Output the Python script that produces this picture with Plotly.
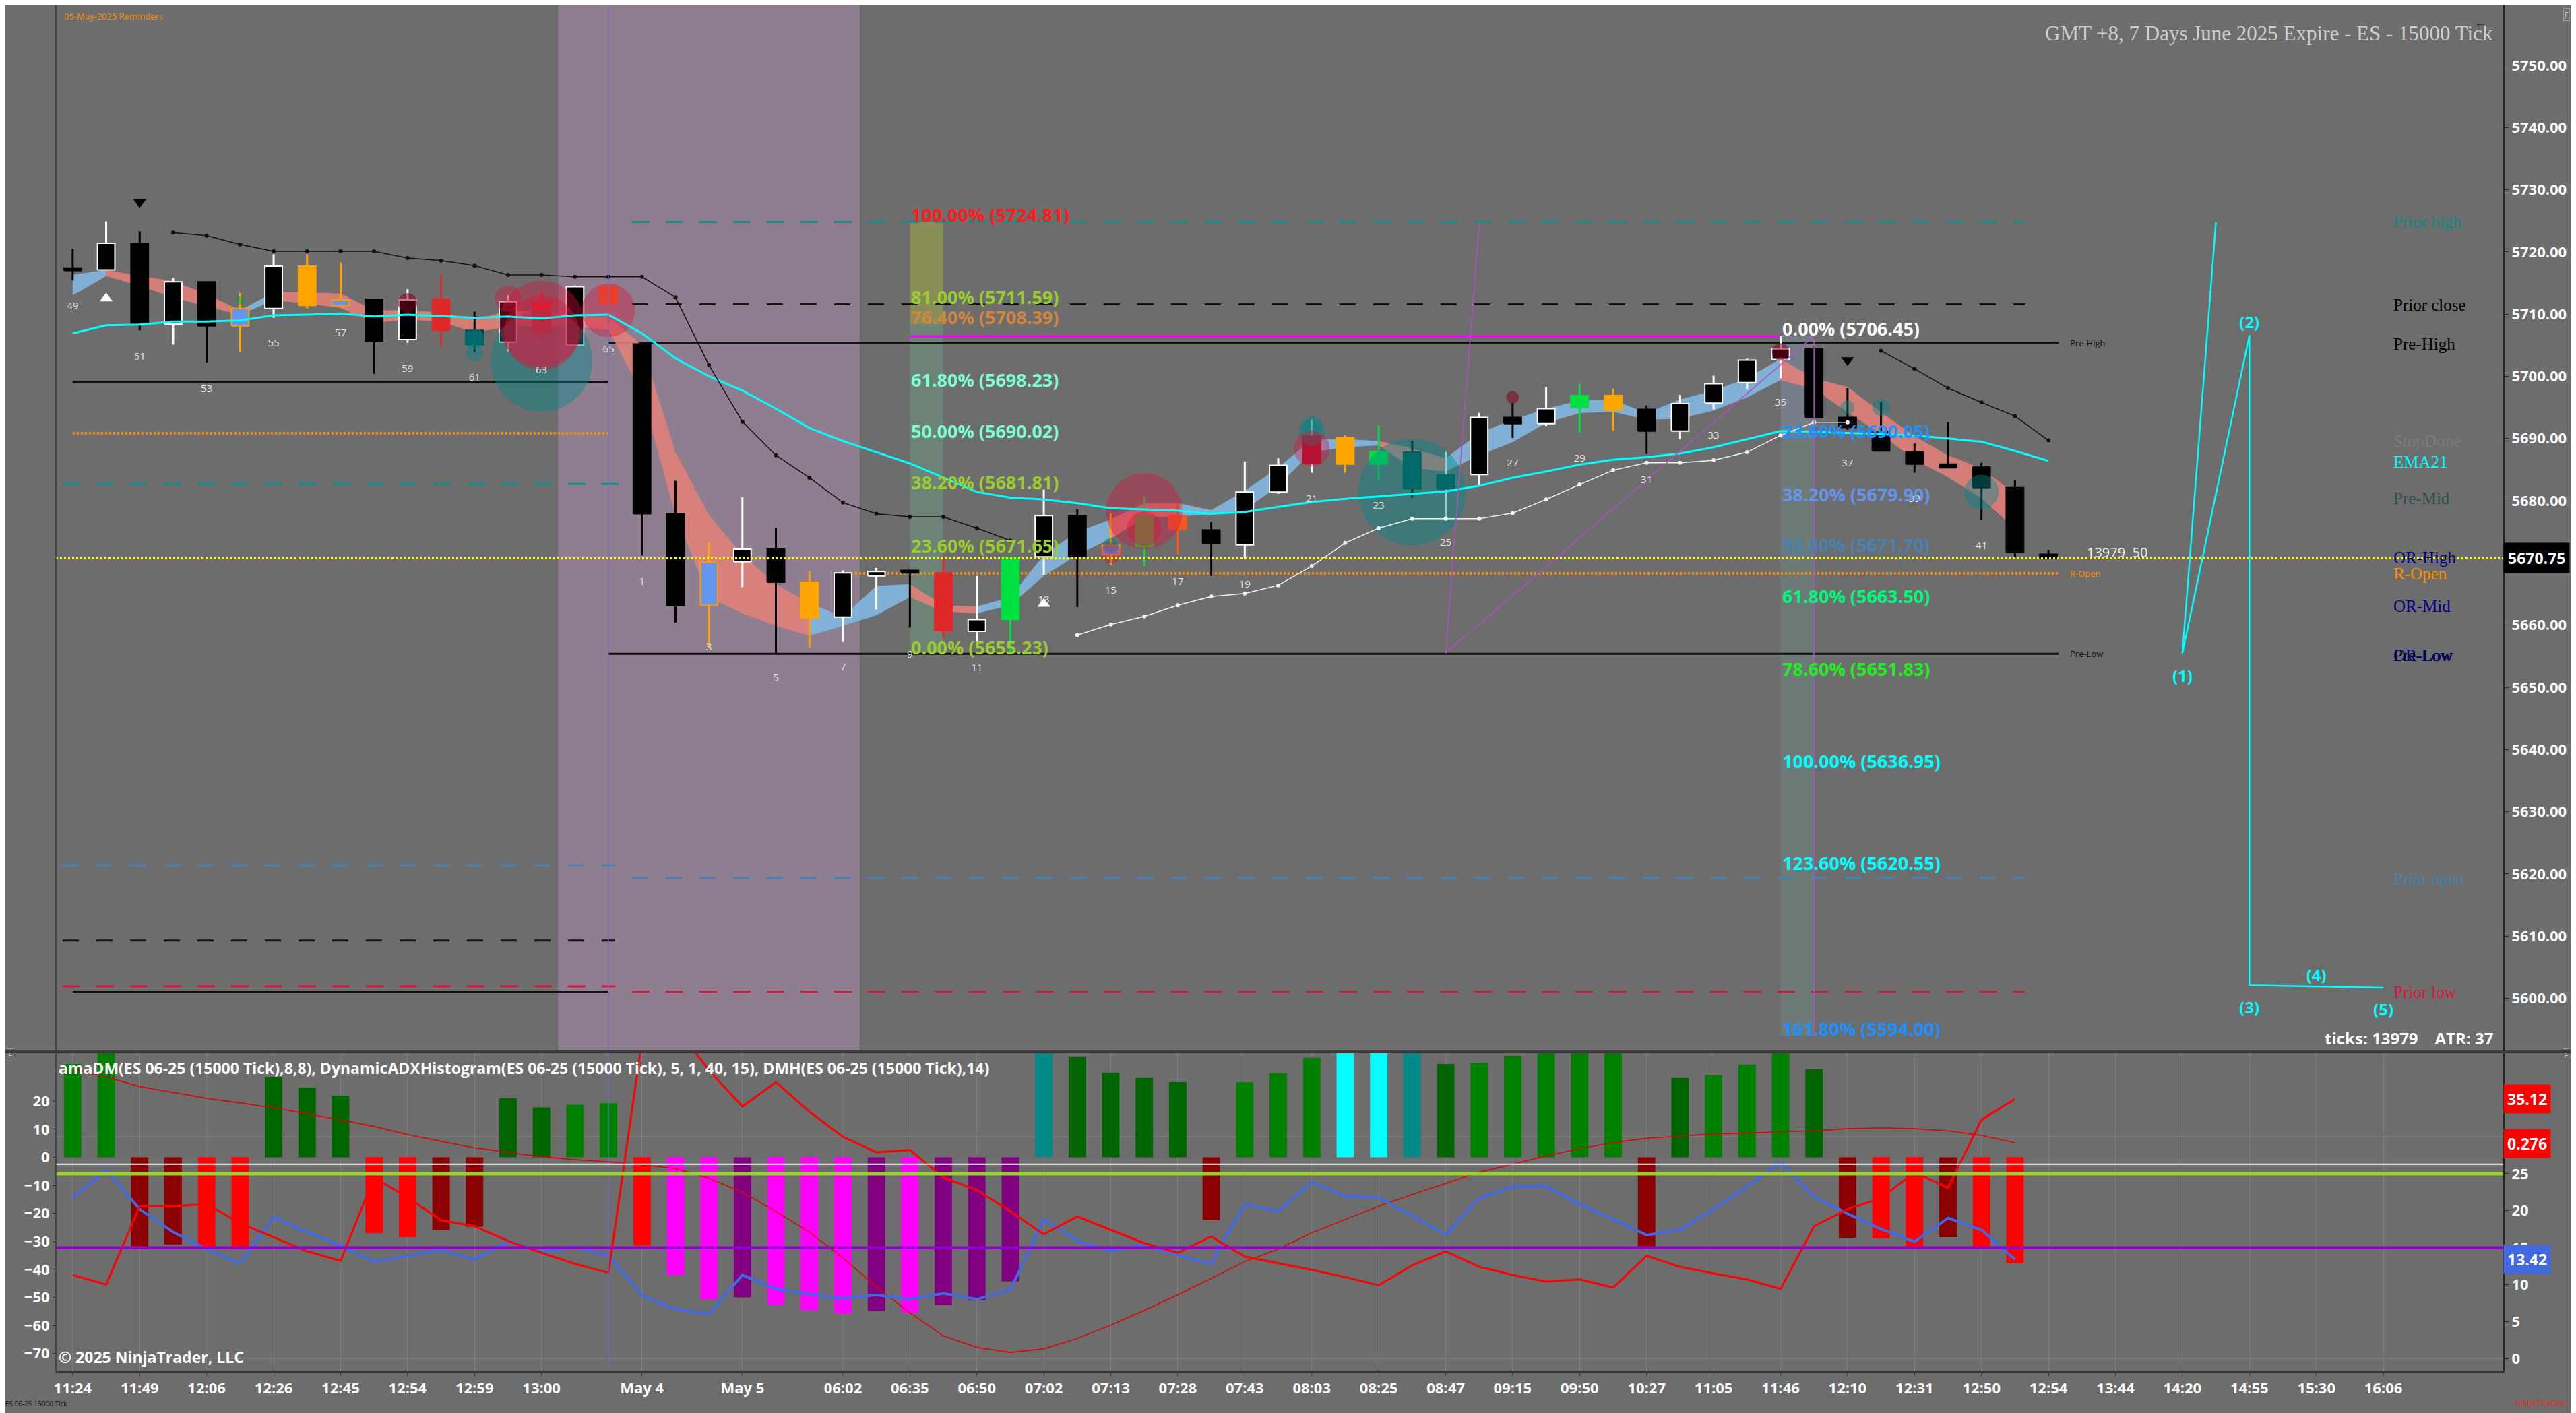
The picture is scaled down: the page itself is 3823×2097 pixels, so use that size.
import plotly.graph_objects as go

# ---------------- price bars (x = bar index of the 15000 tick chart) ----------------
opens = [5717.4, 5717.1, 5721.4, 5708.4, 5715.2, 5708.1, 5710.9, 5717.7, 5711.4, 5712.4,
         5705.9, 5712.4, 5707.4, 5705.5, 5712.0, 5705.0, 5714.4, 5705.2, 5677.9, 5663.2,
         5670.2, 5672.2, 5666.9, 5661.3, 5667.9, 5668.8, 5668.4, 5659.0, 5660.9, 5671.0,
         5677.6, 5671.3, 5672.6, 5675.4, 5675.3, 5672.9, 5681.4, 5686.0, 5690.2, 5685.9,
         5687.8, 5681.9, 5684.2, 5693.4, 5692.4, 5695.0, 5696.9, 5694.7, 5691.2, 5695.7,
         5699.0, 5702.7, 5704.4, 5693.4, 5691.1, 5687.8, 5685.9, 5685.4, 5682.1, 5671.4]
highs = [5720.5, 5724.9, 5723.3, 5715.8, 5715.2, 5713.4, 5719.6, 5719.6, 5718.3, 5712.4,
         5714.0, 5716.3, 5710.4, 5713.0, 5713.5, 5714.6, 5714.4, 5705.2, 5683.2, 5673.3,
         5680.6, 5675.6, 5668.6, 5668.8, 5669.2, 5668.9, 5671.0, 5667.9, 5670.9, 5681.8,
         5678.6, 5678.0, 5680.6, 5679.6, 5676.6, 5686.3, 5686.8, 5693.0, 5690.5, 5692.2,
         5689.6, 5687.9, 5694.1, 5695.7, 5698.3, 5698.8, 5698.0, 5695.3, 5697.0, 5700.1,
         5702.9, 5706.45, 5704.9, 5698.1, 5695.9, 5689.2, 5692.6, 5686.1, 5683.3, 5672.1]
lows = [5715.4, 5717.1, 5707.4, 5705.1, 5702.2, 5703.9, 5709.4, 5710.9, 5711.2, 5700.4,
        5705.4, 5704.7, 5703.9, 5704.0, 5706.0, 5705.0, 5708.4, 5671.2, 5660.4, 5656.4,
        5666.1, 5655.5, 5656.4, 5657.3, 5662.5, 5659.6, 5658.0, 5657.3, 5655.5, 5668.1,
        5662.9, 5669.7, 5669.5, 5671.3, 5667.9, 5670.6, 5681.1, 5684.5, 5684.5, 5683.4,
        5680.5, 5677.1, 5682.3, 5690.1, 5692.0, 5691.0, 5691.2, 5687.5, 5689.9, 5694.7,
        5697.9, 5699.7, 5693.4, 5691.4, 5688.0, 5684.5, 5685.2, 5676.9, 5670.9, 5670.7]
closes = [5717.0, 5721.4, 5708.4, 5715.2, 5708.1, 5710.9, 5717.7, 5711.4, 5712.3, 5705.6,
          5712.3, 5707.4, 5705.1, 5712.0, 5707.0, 5714.4, 5711.7, 5677.9, 5663.1, 5670.1,
          5672.2, 5666.9, 5661.2, 5668.4, 5668.6, 5668.4, 5659.1, 5660.9, 5670.9, 5677.6,
          5671.0, 5672.8, 5677.5, 5677.6, 5673.1, 5681.4, 5685.7, 5690.4, 5685.9, 5687.9,
          5681.9, 5684.1, 5693.4, 5692.4, 5694.8, 5696.9, 5694.6, 5691.2, 5695.6, 5698.8,
          5702.6, 5704.4, 5693.4, 5691.8, 5688.0, 5685.9, 5685.3, 5682.1, 5671.7, 5670.75]
bar_paint = ['B', 'W', 'B', 'W', 'B', 'L', 'W', 'O', 'L', 'B',
             'W', 'R', 'T', 'W', 'R', 'W', 'X', 'B', 'B', 'L',
             'W', 'B', 'O', 'W', 'W', 'B', 'R', 'W', 'G', 'W',
             'B', 'L', 'G', 'X', 'B', 'W', 'W', 'C', 'O', 'G',
             'T', 'V', 'W', 'B', 'W', 'G', 'O', 'B', 'W', 'W',
             'W', 'W', 'B', 'B', 'B', 'B', 'B', 'B', 'B', 'B']

ema21 = [5706.9, 5708.2, 5708.3, 5708.8, 5708.8, 5709.0, 5709.8, 5709.9, 5710.1, 5709.6,
         5709.9, 5709.7, 5709.4, 5709.6, 5709.3, 5709.8, 5709.9, 5706.9, 5702.9, 5700.0,
         5697.7, 5694.8, 5691.7, 5689.6, 5687.8, 5686.0, 5683.7, 5681.4, 5680.5, 5680.2,
         5679.6, 5678.8, 5678.6, 5678.4, 5677.9, 5678.2, 5679.0, 5679.8, 5680.3, 5680.7,
         5681.1, 5681.5, 5682.4, 5683.7, 5684.7, 5685.8, 5686.6, 5687.0, 5687.6, 5688.6,
         5689.9, 5691.2, 5691.1, 5690.9, 5690.7, 5690.5, 5690.0, 5689.5, 5688.0, 5686.4]

# trend ribbon (two averages, coloured by direction)
ribbon_hi = [5716.3, 5717.1, 5716.1, 5715.3, 5713.2, 5710.6, 5713.5, 5713.5, 5713.3, 5710.6,
             5710.6, 5710.3, 5709.1, 5710.5, 5710.5, 5710.0, 5709.5, 5705.0, 5687.8, 5677.7,
             5671.3, 5666.6, 5663.5, 5661.4, 5666.3, 5666.6, 5663.2, 5663.0, 5664.5, 5671.3,
             5675.0, 5677.0, 5679.6, 5679.6, 5678.5, 5681.6, 5685.3, 5689.9, 5689.9, 5689.6,
             5688.4, 5686.8, 5690.9, 5693.0, 5694.8, 5696.1, 5696.2, 5694.1, 5696.3, 5697.7,
             5699.7, 5702.8, 5699.7, 5698.3, 5694.2, 5690.4, 5687.3, 5685.2, 5681.1]
ribbon_lo = [5713.0, 5716.1, 5714.5, 5712.7, 5711.2, 5709.9, 5712.2, 5711.7, 5711.0, 5708.6,
             5709.1, 5708.8, 5707.0, 5708.0, 5708.0, 5708.0, 5707.5, 5697.2, 5677.7, 5664.5,
             5661.9, 5659.9, 5658.3, 5659.9, 5661.6, 5664.5, 5662.2, 5661.9, 5663.2, 5667.9,
             5671.3, 5673.9, 5677.3, 5677.5, 5677.8, 5678.5, 5682.4, 5687.8, 5688.6, 5688.9,
             5685.3, 5684.7, 5687.3, 5689.4, 5692.5, 5694.1, 5694.3, 5693.0, 5693.2, 5694.5,
             5696.6, 5699.4, 5698.0, 5694.2, 5690.7, 5686.6, 5683.8, 5680.4, 5675.5]
ribbon_up = [1, 1, 0, 0, 0, 0, 1, 0, 0, 0,
             0, 0, 0, 0, 0, 0, 0, 0, 0, 0,
             0, 0, 0, 1, 1, 1, 0, 0, 1, 1,
             1, 1, 0, 0, 1, 1, 1, 1, 1, 1,
             0, 0, 1, 1, 1, 1, 1, 1, 1, 1,
             1, 1, 0, 0, 0, 0, 0, 0, 0]

# trailing stops
stop_hi_a_x = list(range(3, 29))
stop_hi_a = [5723.1, 5722.6, 5721.2, 5720.1, 5720.1, 5720.1, 5720.1, 5719.0, 5718.6, 5717.8,
             5716.3, 5716.3, 5716.0, 5716.0, 5716.0, 5712.7, 5701.8, 5692.7, 5687.3, 5683.7,
             5679.7, 5677.9, 5677.4, 5677.4, 5675.6, 5673.6]
stop_hi_b_x = list(range(54, 60))
stop_hi_b = [5704.1, 5701.2, 5698.1, 5695.8, 5693.6, 5689.7]
stop_lo_x = list(range(30, 54))
stop_lo = [5658.4, 5660.1, 5661.4, 5663.2, 5664.6, 5665.1, 5666.4, 5669.5, 5673.2, 5675.6,
           5677.1, 5677.1, 5677.1, 5678.0, 5680.2, 5682.6, 5684.9, 5686.1, 5686.1, 5686.5,
           5687.8, 5690.5, 5692.6, 5692.6]

# order-flow bubbles
bub_x = [13, 14, 14, 14, 16, 10, 12, 12, 5, 31, 31, 32, 32, 37, 37, 37, 40, 43, 51, 53, 54, 57]
bub_y = [5712.5, 5708.5, 5707.0, 5702.5, 5710.6, 5711.8, 5706.0, 5703.8, 5712.2, 5672.8, 5671.6,
         5678.3, 5675.5, 5692.0, 5690.9, 5688.4, 5681.4, 5696.6, 5703.9, 5695.0, 5695.0, 5681.4]
bub_size = [38, 125, 110, 150, 78, 28, 30, 25, 12, 22, 30, 112, 50, 30, 38, 52, 158, 18, 25, 20, 25, 50]
bub_kind = ['r', 'r', 'r', 't', 'r', 'd', 't', 't', 'g', 't', 'r', 'r', 'r', 't', 't', 'r', 't',
            'd', 'd', 't', 't', 't']

tri_dn_x = [2, 53]
tri_dn_y = [5728.0, 5702.6]
tri_up_x = [1, 29]
tri_up_y = [5712.5, 5663.4]

bar_num_x = [0, 2, 4, 6, 8, 10, 12, 14, 16, 17, 19, 21, 23, 25, 27, 29, 31, 33, 35, 37,
             39, 41, 43, 45, 47, 49, 51, 53, 55, 57]
bar_num_y = [5711.2, 5703.1, 5697.9, 5705.2, 5706.9, 5701.1, 5699.7, 5700.9, 5704.2, 5666.9,
             5656.4, 5651.4, 5653.1, 5655.2, 5653.0, 5664.0, 5665.5, 5666.9, 5666.4, 5680.2,
             5679.1, 5673.2, 5685.9, 5686.7, 5683.2, 5690.4, 5695.7, 5685.9, 5680.2, 5672.6]
bar_num_txt = ['49', '51', '53', '55', '57', '59', '61', '63', '65', '1', '3', '5', '7', '9',
               '11', '13', '15', '17', '19', '21', '23', '25', '27', '29', '31', '33', '35',
               '37', '39', '41']

# fibonacci drawings
fib1_pct = [100.0, 81.0, 76.4, 61.8, 50.0, 38.2, 23.6, 0.0]
fib1_price = [5724.81, 5711.59, 5708.39, 5698.23, 5690.02, 5681.81, 5671.65, 5655.23]
fib1_col = ['#ff1a1a', '#9acd32', '#d2873f', '#7fffd4', '#7fffd4', '#9acd32', '#9acd32', '#9acd32']
fib2_pct = [0.0, 23.6, 38.2, 50.0, 61.8, 78.6, 100.0, 123.6, 161.8]
fib2_price = [5706.45, 5690.05, 5679.90, 5671.70, 5663.50, 5651.83, 5636.95, 5620.55, 5594.00]
fib2_col = ['#ffffff', '#1e90ff', '#6495ed', '#4682b4', '#00fa7a', '#22ee22', '#00ffff',
            '#00ffff', '#1e90ff']
fib1_span = (25, 26)
fib2_span = (51, 52)

# horizontal key levels: price, first bar, last bar, style
lvl_price = [5699.1, 5690.85, 5682.7, 5621.4, 5609.3, 5601.9, 5601.1,
             5724.8, 5711.6, 5705.4, 5706.45, 5668.3, 5655.4, 5619.4, 5601.1]
lvl_from = [0, 0, -0.3, -0.3, -0.3, -0.3, 0,
            16.7, 16.7, 16, 25, 23, 16, 16.7, 16.7]
lvl_to = [16, 16, 16.3, 16.2, 16.2, 16.2, 16,
          58.3, 58.3, 59.3, 51, 59.3, 59.3, 58.3, 58.3]
lvl_kind = ['solid', 'orange', 'teal', 'blue', 'black', 'red', 'solid',
            'teal', 'black', 'solid', 'magenta', 'orange', 'solid', 'blue', 'red']
last_price = 5670.75

# right-hand level names
name_txt = ['Prior high', 'Prior close', 'Pre-High', 'StopDone', 'EMA21', 'Pre-Mid', 'OR-High',
            'R-Open', 'OR-Mid', 'Pre-Low', 'OR-Low', 'Prior open', 'Prior low']
name_price = [5724.8, 5711.5, 5705.2, 5689.6, 5686.2, 5680.4, 5670.9, 5668.3, 5663.1, 5655.2,
              5655.2, 5619.2, 5601.0]
name_col = ['#138585', '#000000', '#000000', '#7c7c7c', '#00ffff', '#2f4f4f', '#000080',
            '#ff8c00', '#000080', '#000000', '#000080', '#4682b4', '#dc143c']

# elliott wave sketch
wave_x = [63, 65, 65, 69]
wave_y = [5655.5, 5706.6, 5602.1, 5601.7]
wave_spur_x = [63, 64]
wave_spur_y = [5655.5, 5724.8]
wave_lbl = ['(1)', '(2)', '(3)', '(4)', '(5)']
wave_lbl_x = [63, 65, 65, 67, 69]
wave_lbl_y = [5651.5, 5708.4, 5598.2, 5603.4, 5597.9]

# purple trend drawing
draw_x = [42.0, 41.0, 52.0]
draw_y = [5724.6, 5655.5, 5706.5]

# ---------------- indicator panel ----------------
hist_vals = [33.3, 42.0, -32.75, -31.1, -32.1, -32.75, 28.5, 24.8, 22.0, -27.1,
             -28.5, -25.9, -24.8, 21.0, 17.75, 18.75, 19.25, -31.5, -42.1, -50.7,
             -50.0, -52.5, -54.6, -55.7, -54.8, -55.4, -52.7, -51.0, -44.3, 40.0,
             36.0, 30.2, 28.3, 26.8, -22.5, 26.7, 30.0, 35.5, 40.0, 41.0,
             39.0, 33.3, 33.7, 36.2, 38.0, 39.0, 38.5, -32.1, 28.3, 29.3,
             33.1, 40.0, 31.4, -28.75, -28.9, -32.1, -28.5, -32.1, -37.75]
hist_key = ['g', 'g', 'D', 'D', 'r', 'r', 'k', 'k', 'k', 'r',
            'r', 'D', 'D', 'k', 'k', 'g', 'g', 'r', 'm', 'm',
            'p', 'm', 'm', 'm', 'p', 'm', 'p', 'p', 'p', 't',
            'k', 'k', 'k', 'k', 'D', 'g', 'g', 'g', 'c', 'c',
            't', 'k', 'g', 'g', 'g', 'g', 'g', 'D', 'k', 'g',
            'g', 'g', 'k', 'D', 'r', 'r', 'D', 'r', 'r']
dm_minus = [21.8, 25.5, 20.2, 17.1, 14.8, 12.9, 19.1, 17.1, 15.3, 13.1,
            13.9, 14.7, 13.4, 15.9, 14.4, 15.2, 13.9, 8.5, 6.7, 6.0,
            11.3, 9.4, 8.7, 8.1, 8.6, 8.0, 8.8, 8.0, 9.3, 18.8,
            15.9, 14.6, 15.5, 14.0, 12.8, 20.9, 19.9, 23.9, 22.0, 21.8,
            19.3, 16.7, 21.7, 23.3, 23.3, 20.9, 18.8, 16.7, 17.4, 20.2,
            23.3, 26.5, 21.9, 19.6, 17.5, 15.8, 19.0, 17.4, 13.42]
dm_plus = [11.3, 10.0, 20.6, 20.6, 20.9, 18.3, 16.4, 14.5, 13.2, 24.5,
           21.8, 18.7, 17.9, 15.9, 14.3, 12.8, 11.6, 43.0, 45.0, 39.0,
           34.1, 37.4, 33.4, 30.0, 27.9, 28.2, 24.5, 22.8, 19.9, 16.8,
           19.2, 17.4, 15.6, 14.3, 16.5, 13.8, 12.9, 12.0, 11.0, 9.9,
           12.6, 14.5, 12.4, 11.3, 10.4, 10.7, 9.6, 13.9, 12.4, 11.5,
           10.7, 9.4, 17.9, 20.2, 21.7, 25.2, 23.1, 32.3, 35.12]
adx_slow = [39.2, 38.1, 36.8, 36.0, 35.2, 34.6, 33.9, 33.1, 32.3, 31.4,
            30.3, 29.4, 28.5, 27.9, 27.3, 26.9, 26.6, 26.2, 25.7, 24.4,
            22.5, 19.9, 17.1, 13.6, 9.7, 6.2, 3.05, 1.5, 0.8, 1.3,
            2.7, 4.5, 6.5, 8.6, 10.85, 13.1, 14.8, 17.0, 18.8, 20.6,
            22.2, 23.7, 25.2, 26.3, 27.4, 28.4, 29.2, 29.8, 30.1, 30.4,
            30.5, 30.7, 30.8, 31.1, 31.2, 31.1, 30.8, 30.2, 29.2]
adx_levels = [26.3, 25.0, 15.0]
adx_last = 0.276

tick_pos = [0, 2, 4, 6, 8, 10, 12, 14, 17, 20, 23, 25, 27, 29, 31, 33, 35, 37, 39, 41,
            43, 45, 47, 49, 51, 53, 55, 57, 59, 61, 63, 65, 67, 69]
tick_txt = ['11:24', '11:49', '12:06', '12:26', '12:45', '12:54', '12:59', '13:00', 'May 4',
            'May 5', '06:02', '06:35', '06:50', '07:02', '07:13', '07:28', '07:43', '08:03',
            '08:25', '08:47', '09:15', '09:50', '10:27', '11:05', '11:46', '12:10', '12:31',
            '12:50', '12:54', '13:44', '14:20', '14:55', '15:30', '16:06']
session_break = 16
session_shade = (14.5, 23.5)

# ---------------- styling ----------------
BG = '#6d6d6d'
AXFONT = 'Open Sans'
NARROW = 'Liberation Sans Narrow, Arial Narrow, Open Sans'
SERIF = 'Liberation Serif, Times New Roman, serif'
BODY = 0.26
# the page body adds an 8px offset, so the plot area is laid out to land on the
# reference pixels (left 83, right 3715, top 0, panel split 1561, bottom 2034)
SPLIT = 473 / 2026
X_RANGE = [-0.5, 72.58]
PRICE_RANGE = [5591.4, 5759.63]

CANDLE_STYLE = {
    'W': ('#000000', '#ffffff', '#ffffff'),
    'B': ('#000000', '#000000', '#000000'),
    'O': ('#ffa500', '#ffa500', '#ffa500'),
    'L': ('#6495ed', '#ff9900', '#ffa500'),
    'R': ('#e02828', '#e02828', '#e02828'),
    'G': ('#00e040', '#00e040', '#00e040'),
    'T': ('#005252', '#004444', '#000000'),
    'V': ('#005252', '#004444', '#ffffff'),
    'X': ('#f05a22', '#f05a22', '#f05a22'),
    'C': ('#a0102c', '#a0102c', '#ffffff'),
}
BUBBLE_COL = {'r': 'rgba(220,20,60,0.55)', 't': 'rgba(0,139,139,0.6)',
              'd': 'rgba(130,0,30,0.75)', 'g': 'rgba(0,160,80,0.6)'}
HIST_COL = {'g': '#008000', 'k': '#006400', 'D': '#8b0000', 'r': '#ff0000',
            'm': '#ff00ff', 'p': '#800080', 't': '#008b8b', 'c': '#00ffff'}
LEVEL_STYLE = {
    'solid': dict(color='#111111', width=3, dash='solid'),
    'orange': dict(color='#ff8c00', width=4, dash='3px,3px'),
    'teal': dict(color='#178a8a', width=3, dash='26px,24px'),
    'blue': dict(color='#4682b4', width=3, dash='24px,26px'),
    'black': dict(color='#111111', width=3, dash='24px,26px'),
    'red': dict(color='#dc143c', width=3, dash='26px,24px'),
    'magenta': dict(color='#ff00ff', width=3, dash='solid'),
}


def paper_x(px):
    return (px - 83) / 3632


def paper_y(py):
    return (2034 - py) / 2026


fig = go.Figure()
P = dict(xaxis='x', yaxis='y')

# session shading and fibonacci columns
fig.add_shape(type='rect', xref='x', yref='y domain', x0=session_shade[0], x1=session_shade[1],
              y0=0, y1=1, fillcolor='#8f7e90', line_width=0, layer='below')
fig.add_shape(type='rect', xref='x', yref='y', x0=fib1_span[0], x1=fib1_span[1],
              y0=fib1_price[2], y1=fib1_price[0], fillcolor='rgba(170,180,60,0.45)',
              line_width=0, layer='below')
fig.add_shape(type='rect', xref='x', yref='y', x0=fib1_span[0], x1=fib1_span[1],
              y0=fib1_price[-1], y1=fib1_price[2], fillcolor='rgba(110,200,150,0.25)',
              line_width=0, layer='below')
fig.add_shape(type='rect', xref='x', yref='y', x0=fib2_span[0], x1=fib2_span[1],
              y0=fib2_price[1], y1=fib2_price[0], fillcolor='rgba(140,160,200,0.3)',
              line_width=0, layer='below')
fig.add_shape(type='rect', xref='x', yref='y', x0=fib2_span[0], x1=fib2_span[1],
              y0=fib2_price[-1], y1=fib2_price[1], fillcolor='rgba(110,170,160,0.22)',
              line_width=0, layer='below')

# key levels
for p, a, b, k in zip(lvl_price, lvl_from, lvl_to, lvl_kind):
    fig.add_shape(type='line', xref='x', yref='y', x0=a, x1=b, y0=p, y1=p,
                  line=LEVEL_STYLE[k], layer='below')
fig.add_shape(type='line', xref='x domain', yref='y', x0=0, x1=1, y0=last_price, y1=last_price,
              line=dict(color='#ffff00', width=3, dash='3px,3px'))
fig.add_shape(type='line', xref='x', yref='paper', x0=session_break, x1=session_break, y0=0, y1=1,
              line=dict(color='#6a6ad8', width=1))

# ribbon
for flag, col in ((1, 'rgba(130,182,222,0.92)'), (0, 'rgba(222,128,122,0.92)')):
    rx, ry = [], []
    for i in range(len(ribbon_hi) - 1):
        if ribbon_up[i + 1] != flag:
            continue
        rx += [i, i + 1, i + 1, i, i, None]
        ry += [ribbon_lo[i], ribbon_lo[i + 1], ribbon_hi[i + 1], ribbon_hi[i], ribbon_lo[i], None]
    fig.add_trace(go.Scatter(x=rx, y=ry, mode='lines', fill='toself', fillcolor=col,
                             line=dict(width=0, color=col), hoverinfo='skip', **P))

# candles: wicks then bodies
bodies = []
for key, (fill, edge, wick) in CANDLE_STYLE.items():
    bx, by, wx, wy = [], [], [], []
    for i, k in enumerate(bar_paint):
        if k != key:
            continue
        o, h, l, c = opens[i], highs[i], lows[i], closes[i]
        top, bot = max(o, c), min(o, c)
        bx += [i - BODY, i + BODY, i + BODY, i - BODY, i - BODY, None]
        by += [bot, bot, top, top, bot, None]
        if h > top:
            wx += [i, i, None]
            wy += [top, h, None]
        if l < bot:
            wx += [i, i, None]
            wy += [l, bot, None]
    if not bx:
        continue
    fig.add_trace(go.Scatter(x=wx, y=wy, mode='lines', line=dict(color=wick, width=3),
                             hoverinfo='skip', **P))
    bodies.append(go.Scatter(x=bx, y=by, mode='lines', fill='toself', fillcolor=fill,
                             line=dict(color=edge, width=2), hoverinfo='skip', **P))
for b in bodies:
    fig.add_trace(b)

# bubbles: teal layer first, red on top
for group in (('t',), ('r', 'd', 'g')):
    sel = [j for j, k in enumerate(bub_kind) if k in group]
    cols = [BUBBLE_COL[bub_kind[j]] for j in sel]
    fig.add_trace(go.Scatter(x=[bub_x[j] for j in sel], y=[bub_y[j] for j in sel],
                             mode='markers', hoverinfo='skip',
                             marker=dict(size=[bub_size[j] for j in sel], color=cols,
                                         line=dict(width=1, color=cols)), **P))

# EMA and trailing stops
fig.add_trace(go.Scatter(x=list(range(len(ema21))), y=ema21, mode='lines',
                         line=dict(color='#00ffff', width=3), **P))
for sx, sy, col in ((stop_hi_a_x, stop_hi_a, '#111111'), (stop_hi_b_x, stop_hi_b, '#111111'),
                    (stop_lo_x, stop_lo, '#f2f2f2')):
    fig.add_trace(go.Scatter(x=sx, y=sy, mode='lines+markers', line=dict(color=col, width=1.5),
                             marker=dict(size=6, color=col), **P))

# fibonacci edge and trend drawing
fig.add_trace(go.Scatter(x=[fib2_span[1], fib2_span[1]], y=[fib2_price[0], fib2_price[-1]],
                         mode='lines', line=dict(color='#b050c8', width=1.5), **P))
fig.add_trace(go.Scatter(x=draw_x, y=draw_y, mode='lines', line=dict(color='#b050c8', width=1.5), **P))

# elliott wave
fig.add_trace(go.Scatter(x=wave_x, y=wave_y, mode='lines', line=dict(color='#00ffff', width=2.5), **P))
fig.add_trace(go.Scatter(x=wave_spur_x, y=wave_spur_y, mode='lines',
                         line=dict(color='#00ffff', width=2.5), **P))
fig.add_trace(go.Scatter(x=wave_lbl_x, y=wave_lbl_y, mode='text', text=wave_lbl,
                         textfont=dict(color='#00ffff', size=24, family=NARROW, weight='bold'),
                         **P))

# markers
fig.add_trace(go.Scatter(x=tri_dn_x, y=tri_dn_y, mode='markers',
                         marker=dict(symbol='triangle-down', size=17, color='#000000'), **P))
fig.add_trace(go.Scatter(x=tri_up_x, y=tri_up_y, mode='markers',
                         marker=dict(symbol='triangle-up', size=17, color='#ffffff'), **P))
fig.add_trace(go.Scatter(x=bar_num_x, y=bar_num_y, mode='text', text=bar_num_txt,
                         textfont=dict(color='#e6e6e6', size=15, family=NARROW), **P))

# ---------------- indicator traces ----------------
fig.add_trace(go.Bar(x=list(range(len(hist_vals))), y=hist_vals, width=0.52,
                     marker=dict(color=[HIST_COL[k] for k in hist_key], line_width=0),
                     xaxis='x2', yaxis='y2'))
for lv, col, w in zip(adx_levels, ['#ffffff', '#9acd32', '#9400d3'], [2, 5, 4]):
    fig.add_shape(type='line', xref='x2 domain', yref='y3', x0=0, x1=1, y0=lv, y1=lv,
                  line=dict(color=col, width=w))
for lv in (0, 30):
    fig.add_shape(type='line', xref='x2 domain', yref='y3', x0=0, x1=1, y0=lv, y1=lv,
                  line=dict(color='#8c8c8c', width=1), layer='below')
fig.add_trace(go.Scatter(x=list(range(len(adx_slow))), y=adx_slow, mode='lines',
                         line=dict(color='#e00000', width=1.5), xaxis='x2', yaxis='y3'))
fig.add_trace(go.Scatter(x=list(range(len(dm_minus))), y=dm_minus, mode='lines',
                         line=dict(color='#4169e1', width=4), xaxis='x2', yaxis='y3'))
fig.add_trace(go.Scatter(x=list(range(len(dm_plus))), y=dm_plus, mode='lines',
                         line=dict(color='#ff0000', width=3), xaxis='x2', yaxis='y3'))

# ---------------- annotations ----------------
ann = []
for pct, pr, col in zip(fib1_pct, fib1_price, fib1_col):
    ann.append(dict(x=fib1_span[0], y=pr, xref='x', yref='y', xanchor='left', yanchor='middle',
                    yshift=11, showarrow=False, text=f'{pct:.2f}% ({pr:.2f})',
                    font=dict(color=col, size=27, family=NARROW, weight='bold')))
for pct, pr, col in zip(fib2_pct, fib2_price, fib2_col):
    ann.append(dict(x=fib2_span[0], y=pr, xref='x', yref='y', xanchor='left', yanchor='middle',
                    yshift=11, showarrow=False, text=f'{pct:.2f}% ({pr:.2f})',
                    font=dict(color=col, size=27, family=NARROW, weight='bold')))
for t, pr, col in zip(name_txt, name_price, name_col):
    ann.append(dict(x=69.25, y=pr, xref='x', yref='y', xanchor='left', yanchor='middle',
                    showarrow=False, text=t, font=dict(color=col, size=25, family=SERIF)))
for t, pr, col in (('Pre-High', lvl_price[9], '#111111'), ('R-Open', lvl_price[11], '#ff8c00'),
                   ('Pre-Low', lvl_price[12], '#111111')):
    ann.append(dict(x=59.6, y=pr, xref='x', yref='y', xanchor='left', yanchor='middle',
                    showarrow=False, text=t, font=dict(color=col, size=13, family=NARROW)))
ann.append(dict(x=60.1, y=last_price + 1.0, xref='x', yref='y', xanchor='left', showarrow=False,
                text='13979  50', font=dict(color='#f0f0f0', size=20, family=NARROW)))
ann.append(dict(x=1.0, y=last_price, xref='paper', yref='y', xanchor='left', yanchor='middle',
                showarrow=False, text=f'{last_price:.2f}', bgcolor='#000000', borderpad=6,
                font=dict(color='#ffffff', size=23, family=AXFONT, weight='bold')))
for val, y, col in ((dm_plus[-1], dm_plus[-1], '#ff0000'), (adx_last, 29.1, '#ff0000'),
                    (dm_minus[-1], dm_minus[-1], '#4169e1')):
    ann.append(dict(x=1.0, y=y, xref='paper', yref='y3', xanchor='left', yanchor='middle',
                    showarrow=False, text=f'{val:g}' if val < 1 else f'{val:.2f}', bgcolor=col,
                    borderpad=5, font=dict(color='#ffffff', size=23, family=NARROW, weight='bold')))
ann.append(dict(x=paper_x(3702), y=paper_y(50), xref='paper', yref='paper', xanchor='right',
                yanchor='middle', showarrow=False,
                text='GMT +8, 7 Days June 2025 Expire - ES - 15000 Tick',
                font=dict(color='#cfcfcf', size=31, family=SERIF)))
ann.append(dict(x=paper_x(3692), y=paper_y(18), xref='paper', yref='paper', showarrow=False,
                text='←', font=dict(color='#111111', size=18)))
for fx, fy in ((3814, 12), (10, 1575), (3813, 1575)):
    ann.append(dict(x=paper_x(fx), y=paper_y(fy), xref='paper', yref='paper', showarrow=False,
                    text='F', borderwidth=1, bordercolor='#9a9a9a', borderpad=1,
                    font=dict(color='#cfcfcf', size=11, family=NARROW)))
ann.append(dict(x=paper_x(93), y=paper_y(24), xref='paper', yref='paper', xanchor='left',
                yanchor='middle', showarrow=False, text='05-May-2025 Reminders',
                font=dict(color='#ff8c00', size=13, family=NARROW)))
ann.append(dict(x=paper_x(3702), y=paper_y(1540), xref='paper', yref='paper', xanchor='right',
                yanchor='middle', showarrow=False,
                text='ticks: 13979&nbsp;&nbsp;&nbsp;&nbsp;ATR: 37',
                font=dict(color='#ffffff', size=24, family=AXFONT, weight='bold')))
ann.append(dict(x=paper_x(85), y=paper_y(1585), xref='paper', yref='paper', xanchor='left',
                yanchor='middle', showarrow=False,
                text='amaDM(ES 06-25 (15000 Tick),8,8), DynamicADXHistogram(ES 06-25 (15000 Tick), '
                     '5, 1, 40, 15), DMH(ES 06-25 (15000 Tick),14)',
                font=dict(color='#ffffff', size=23, family=AXFONT, weight='bold')))
ann.append(dict(x=paper_x(85), y=paper_y(2014), xref='paper', yref='paper', xanchor='left',
                yanchor='middle', showarrow=False, text='© 2025 NinjaTrader, LLC',
                font=dict(color='#ffffff', size=23, family=AXFONT, weight='bold')))
ann.append(dict(x=paper_x(6), y=paper_y(2083), xref='paper', yref='paper', xanchor='left',
                yanchor='middle', showarrow=False, text='ES 06-25 15000 Tick',
                font=dict(color='#111111', size=10, family=NARROW)))
ann.append(dict(x=paper_x(3770), y=paper_y(2082), xref='paper', yref='paper', xanchor='center',
                yanchor='middle', showarrow=False, text='NINJATRADER',
                font=dict(color='#e03020', size=12, family=NARROW)))

# panel frames
fig.add_shape(type='line', xref='paper', yref='paper', x0=paper_x(0), x1=paper_x(3823),
              y0=SPLIT, y1=SPLIT, line=dict(color='#3c3c3c', width=4))
fig.add_shape(type='line', xref='paper', yref='paper', x0=0, x1=0, y0=0, y1=1,
              line=dict(color='#3a3a3a', width=1.5))

tickfont = dict(color='#ffffff', size=22, family=AXFONT, weight='bold')
fig.update_layout(
    width=3823, height=2097,
    paper_bgcolor=BG, plot_bgcolor=BG,
    margin=dict(l=75, r=116, t=0, b=71),
    showlegend=False, barmode='overlay',
    annotations=ann,
    xaxis=dict(domain=[0, 1], anchor='y', range=X_RANGE, matches='x2', showticklabels=False,
               showgrid=False, zeroline=False),
    xaxis2=dict(domain=[0, 1], anchor='y2', range=X_RANGE, tickmode='array', tickvals=tick_pos,
                ticktext=tick_txt, tickfont=tickfont, ticks='outside', ticklen=4,
                tickcolor='#333333', showgrid=True, gridcolor='#7e7e7e', gridwidth=1,
                zeroline=False, showline=True, linecolor='#3a3a3a', linewidth=4),
    yaxis=dict(domain=[SPLIT, 1], anchor='x', side='right', range=PRICE_RANGE, dtick=10,
               tickformat='.2f', tickfont=tickfont, ticks='outside', ticklen=6,
               tickcolor='#222222', showgrid=False, zeroline=False, showline=True,
               linecolor='#222222', linewidth=2),
    yaxis2=dict(domain=[0, SPLIT], anchor='x2', side='left', range=[-76.1, 37.6],
                tickvals=[-70, -60, -50, -40, -30, -20, -10, 0, 10, 20], tickfont=tickfont,
                ticks='outside', ticklen=4, tickcolor='#222222', showgrid=False, zeroline=False),
    yaxis3=dict(overlaying='y2', anchor='x2', side='right', range=[-1.64, 41.5],
                tickvals=[0, 5, 10, 15, 20, 25, 30], tickfont=tickfont, ticks='outside',
                ticklen=6, tickcolor='#222222', showgrid=False, zeroline=False, showline=True,
                linecolor='#222222', linewidth=2),
)

fig.write_html("out.html")
